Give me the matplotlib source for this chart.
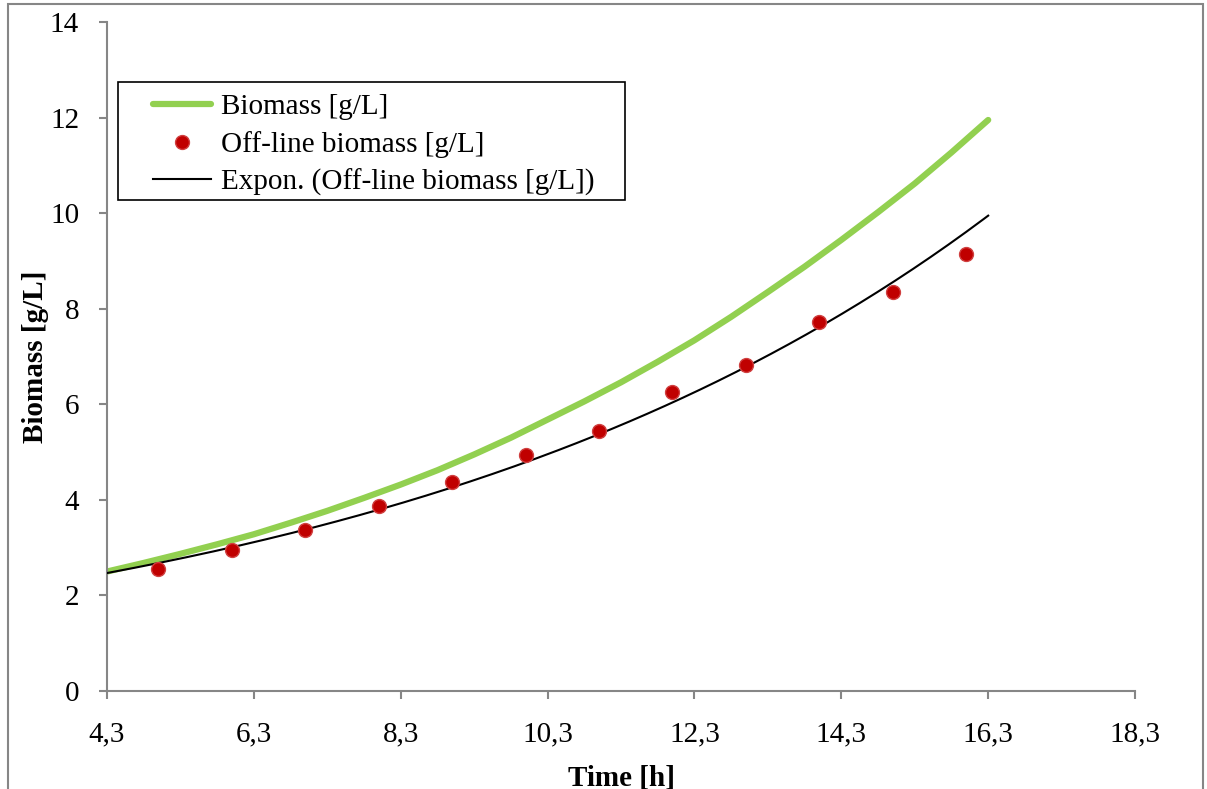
import numpy as np
import matplotlib.pyplot as plt
from matplotlib.patches import Rectangle

plt.rcParams['font.family'] = ['Liberation Serif', 'DejaVu Serif']

# model biomass curve [g/L]
t_model = [4.3, 4.8, 5.3, 5.8, 6.3, 6.8, 7.3, 7.8, 8.3, 8.8, 9.3, 9.8, 10.3,
           10.8, 11.3, 11.8, 12.3, 12.8, 13.3, 13.8, 14.3, 14.8, 15.3, 15.8, 16.3]
x_model = [2.50, 2.68, 2.87, 3.07, 3.28, 3.52, 3.77, 4.04, 4.32, 4.62, 4.95, 5.30, 5.68,
           6.06, 6.46, 6.89, 7.34, 7.83, 8.35, 8.88, 9.44, 10.02, 10.62, 11.27, 11.95]

# off-line samples
t_off = [5, 6, 7, 8, 9, 10, 11, 12, 13, 14, 15, 16]
x_off = [2.55, 2.95, 3.37, 3.87, 4.37, 4.94, 5.44, 6.26, 6.82, 7.72, 8.35, 9.14]

xticks = [4.3, 6.3, 8.3, 10.3, 12.3, 14.3, 16.3, 18.3]
xtick_labels = ["4,3", "6,3", "8,3", "10,3", "12,3", "14,3", "16,3", "18,3"]
yticks = [0, 2, 4, 6, 8, 10, 12, 14]

# exponential trendline (fit in log space), extended to 4.3 .. 16.3
b, a = np.polyfit(t_off, np.log(x_off), 1)
t_fit = np.linspace(4.3, 16.3, 200)
x_fit = np.exp(a + b * t_fit)

fs = 21

fig = plt.figure(figsize=(12.07, 7.89), dpi=100)
ax = fig.add_axes([0.0886, 0.1242, 0.8518, 0.8479])

ax.plot(t_model, x_model, color="#92D050", lw=4.5, solid_capstyle="round",
        solid_joinstyle="round", label="Biomass [g/L]", zorder=2)
ax.plot(t_off, x_off, "o", color="#C00000", mec="#D04040", mew=1.0, ms=10,
        label="Off-line biomass [g/L]", zorder=4)
ax.plot(t_fit, x_fit, color="black", lw=1.5,
        label="Expon. (Off-line biomass [g/L])", zorder=3)

ax.set_xlim(4.3, 18.3)
ax.set_ylim(0, 14)
ax.set_xticks(xticks)
ax.set_xticklabels(xtick_labels)
ax.set_yticks(yticks)

gray = "#868686"
for s in ["top", "right"]:
    ax.spines[s].set_visible(False)
for s in ["left", "bottom"]:
    ax.spines[s].set_color(gray)
    ax.spines[s].set_linewidth(1.5)
ax.tick_params(axis="x", direction="out", length=6, width=1.5, color=gray,
               labelsize=fs, pad=16)
ax.tick_params(axis="y", direction="out", length=6, width=1.5, color=gray,
               labelsize=fs, pad=14)

ax.set_xlabel("Time [h]", fontsize=fs, fontweight="bold", labelpad=12)
ax.set_ylabel("Biomass [g/L]", fontsize=fs, fontweight="bold", labelpad=1)

# legend entries without frame, frame drawn as a separate box
leg = ax.legend(loc="upper left", bbox_to_anchor=(0.0447, 0.893), borderaxespad=0,
                fontsize=fs, frameon=False, handlelength=2.0,
                labelspacing=0.37, borderpad=0, handletextpad=0.35)
ax.add_patch(Rectangle((0.0107, 0.7339), 0.4932, 0.1764, transform=ax.transAxes,
                       fill=False, edgecolor="black", lw=1.2, zorder=5))

# chart border
fig.patches.append(Rectangle((8 / 1207, -0.01), 1195 / 1207, 1.0 - 4 / 789 + 0.01,
                             transform=fig.transFigure, fill=False,
                             edgecolor=gray, lw=1.5))

fig.savefig("out.png", dpi=100)
